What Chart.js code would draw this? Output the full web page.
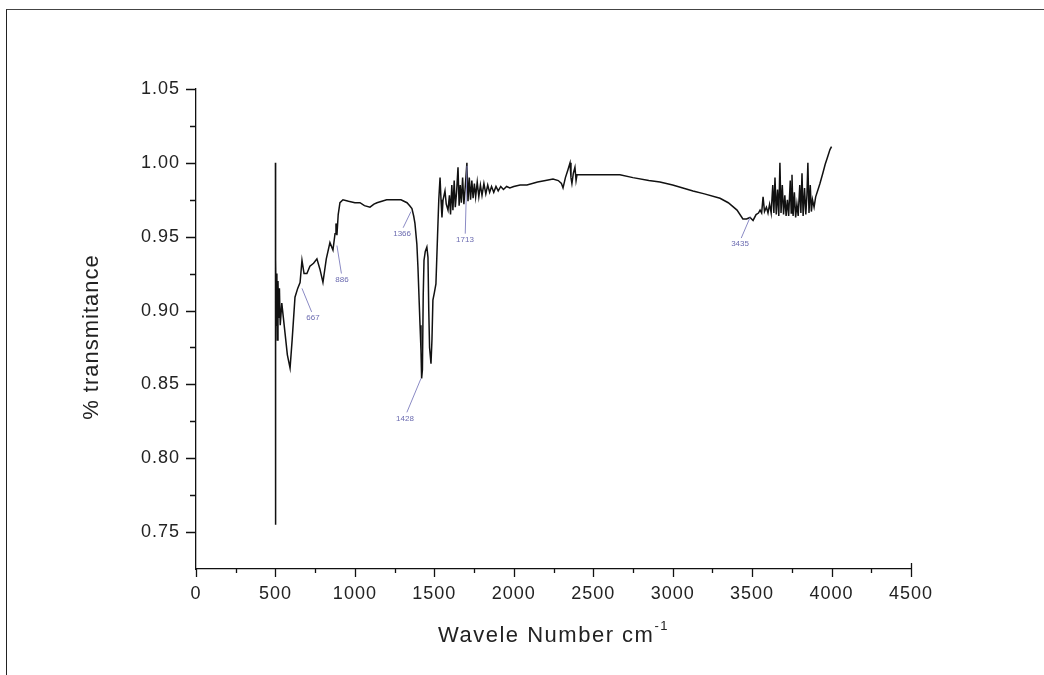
<!DOCTYPE html>
<html>
<head>
<meta charset="utf-8">
<script src="https://cdn.jsdelivr.net/npm/chart.js@4.4.0/dist/chart.umd.min.js"></script>
<style>
html, body { margin: 0; padding: 0; background: #fff; }
#wrap { position: relative; width: 1044px; height: 675px; overflow: hidden; }
#frame { position: absolute; left: 6px; top: 9px; right: -2px; bottom: -2px; border-top: 1px solid #444; border-left: 1px solid #222; }
canvas { position: absolute; left: 0; top: 0; }
</style>
</head>
<body>
<div id="wrap">
  <div id="frame"></div>
  <canvas id="ftirChart" width="1044" height="675"></canvas>
</div>
<script>
'use strict';

// spectrum
var wavenumbers = [
    500, 500, 500, 503, 506, 509, 512, 516, 520, 525, 530, 540, 550, 560, 575, 592,
    605, 623, 640, 655, 667, 680, 698, 717, 740, 761, 780, 799, 820, 843, 862, 875,
    881, 887, 895, 906, 925, 960, 1000, 1032, 1060, 1095, 1120, 1139, 1200, 1240, 1290, 1328,
    1345, 1359, 1370, 1378, 1390, 1397, 1405, 1410, 1416, 1420, 1425, 1430, 1435, 1443, 1453, 1460,
    1465, 1470, 1479, 1485, 1491, 1500, 1510, 1520, 1528, 1536, 1542, 1548, 1555, 1567, 1575, 1586,
    1595, 1602, 1610, 1617, 1625, 1632, 1640, 1649, 1656, 1663, 1670, 1678, 1686, 1694, 1705, 1712,
    1720, 1728, 1736, 1744, 1752, 1760, 1770, 1780, 1790, 1800, 1812, 1824, 1836, 1848, 1860, 1874,
    1888, 1902, 1918, 1935, 1955, 1975, 2000, 2040, 2083, 2150, 2200, 2247, 2280, 2300, 2310, 2325,
    2340, 2354, 2360, 2366, 2375, 2385, 2392, 2398, 2450, 2550, 2668, 2750, 2850, 2920, 3000, 3128,
    3200, 3298, 3350, 3405, 3442, 3465, 3487, 3506, 3525, 3540, 3550, 3560, 3569, 3578, 3590, 3600,
    3610, 3620, 3630, 3637, 3644, 3652, 3660, 3668, 3675, 3682, 3690, 3698, 3706, 3714, 3722, 3730,
    3740, 3746, 3751, 3758, 3766, 3774, 3782, 3790, 3800, 3807, 3814, 3821, 3830, 3838, 3845, 3851,
    3858, 3866, 3873, 3880, 3890, 3900, 3915, 3927, 3945, 3960, 3975, 3990, 4000
];
var transmittance = [
    1.000, 0.755, 0.900, 0.935, 0.890, 0.925, 0.880, 0.920, 0.895, 0.915, 0.890, 0.905, 0.895, 0.885, 0.870, 0.861,
    0.880, 0.909, 0.915, 0.919, 0.934, 0.925, 0.925, 0.930, 0.932, 0.935, 0.928, 0.919, 0.935, 0.946, 0.941, 0.952,
    0.959, 0.951, 0.965, 0.973, 0.975, 0.974, 0.973, 0.973, 0.971, 0.970, 0.972, 0.973, 0.975, 0.975, 0.975, 0.973,
    0.971, 0.969, 0.964, 0.959, 0.945, 0.929, 0.905, 0.890, 0.873, 0.854, 0.860, 0.910, 0.934, 0.940, 0.943, 0.936,
    0.900, 0.875, 0.864, 0.880, 0.907, 0.912, 0.918, 0.950, 0.975, 0.990, 0.975, 0.963, 0.975, 0.981, 0.972, 0.968,
    0.978, 0.965, 0.985, 0.968, 0.988, 0.970, 0.980, 0.997, 0.971, 0.985, 0.973, 0.990, 0.972, 0.983, 1.000, 0.974,
    0.990, 0.975, 0.988, 0.976, 0.986, 0.977, 0.987, 0.977, 0.985, 0.978, 0.986, 0.979, 0.985, 0.980, 0.984, 0.980,
    0.984, 0.981, 0.984, 0.982, 0.984, 0.983, 0.984, 0.985, 0.985, 0.987, 0.988, 0.989, 0.988, 0.986, 0.983, 0.990,
    0.995, 1.000, 0.990, 0.986, 0.993, 0.997, 0.988, 0.992, 0.992, 0.992, 0.992, 0.990, 0.988, 0.987, 0.985, 0.981,
    0.979, 0.976, 0.973, 0.968, 0.962, 0.962, 0.963, 0.961, 0.965, 0.966, 0.968, 0.966, 0.977, 0.967, 0.970, 0.966,
    0.972, 0.966, 0.985, 0.966, 0.990, 0.965, 0.982, 0.964, 1.000, 0.966, 0.985, 0.965, 0.978, 0.964, 0.975, 0.964,
    0.988, 0.966, 0.992, 0.964, 0.980, 0.963, 0.972, 0.964, 0.985, 0.966, 0.993, 0.964, 0.983, 0.965, 0.978, 1.000,
    0.966, 0.985, 0.967, 0.975, 0.970, 0.977, 0.982, 0.986, 0.993, 0.999, 1.004, 1.009, 1.011
];

// peak annotations
var peakLabels = ['667', '886', '1366', '1428', '1713', '3435'];
var peakX = [667, 887, 1353, 1416, 1706, 3487];
var peakY = [0.915, 0.944, 0.967, 0.854, 0.998, 0.963];
var labelX = [736, 919, 1297, 1315, 1693, 3424];
var labelY = [0.895, 0.921, 0.952, 0.827, 0.948, 0.945];

// axes
var xTickValues = [0, 250, 500, 750, 1000, 1250, 1500, 1750, 2000, 2250, 2500, 2750, 3000, 3250, 3500, 3750, 4000, 4250, 4500];
var yTickValues = [0.75, 0.775, 0.80, 0.825, 0.85, 0.875, 0.90, 0.925, 0.95, 0.975, 1.00, 1.025, 1.05];

var points = wavenumbers.map(function (w, i) {
    return { x: w, y: transmittance[i] };
});

function isMajorX (v) { return v % 500 === 0; }
function isMajorY (v) { return Math.round(v * 1000) % 50 === 0; }

var axisDecor = {
    id: 'axisDecor',
    beforeDraw: function (chart) {
        // the picture's lettering is a little wider than plain Arial
        chart.ctx.letterSpacing = '1px';
    },
    afterDraw: function (chart) {
        var ctx = chart.ctx;
        var xs = chart.scales.x;
        var ys = chart.scales.y;
        var area = chart.chartArea;
        var i;

        ctx.save();
        ctx.strokeStyle = '#111';
        ctx.lineWidth = 1.3;
        ctx.beginPath();
        xs.ticks.forEach(function (t) {
            var px = Math.round(xs.getPixelForValue(t.value)) + 0.5;
            var len = isMajorX(t.value) ? 8 : 4;
            ctx.moveTo(px, area.bottom);
            ctx.lineTo(px, area.bottom + len);
        });
        // right end of the x axis turns up
        ctx.moveTo(Math.round(area.right) + 0.5, area.bottom);
        ctx.lineTo(Math.round(area.right) + 0.5, area.bottom - 6);
        ys.ticks.forEach(function (t) {
            var py = Math.round(ys.getPixelForValue(t.value)) + 0.5;
            var len = isMajorY(t.value) ? 10 : 6;
            ctx.moveTo(area.left, py);
            ctx.lineTo(area.left - len, py);
        });
        ctx.moveTo(Math.round(area.left) + 0.5, area.bottom);
        ctx.lineTo(Math.round(area.left) + 0.5, area.bottom + 8);
        ctx.stroke();

        // peak labels
        ctx.letterSpacing = '0px';
        ctx.strokeStyle = '#8a8ac4';
        ctx.lineWidth = 1;
        ctx.fillStyle = '#6b6bb0';
        ctx.font = '8px "Liberation Sans", Arial, sans-serif';
        ctx.textAlign = 'center';
        ctx.textBaseline = 'middle';
        for (i = 0; i < peakLabels.length; i++) {
            var x0 = xs.getPixelForValue(peakX[i]);
            var y0 = ys.getPixelForValue(peakY[i]);
            var x1 = xs.getPixelForValue(labelX[i]);
            var y1 = ys.getPixelForValue(labelY[i]);
            ctx.beginPath();
            ctx.moveTo(x0, y0);
            ctx.lineTo(x1 + (x0 - x1) * 0.12, y1 - 6);
            ctx.stroke();
            ctx.fillText(peakLabels[i], x1, y1);
        }

        // axis titles
        ctx.fillStyle = '#222';
        ctx.textBaseline = 'alphabetic';
        ctx.letterSpacing = '1.5px';
        ctx.font = '22px "Liberation Sans", Arial, sans-serif';
        var main = 'Wavele Number cm';
        var sup = '-1';
        ctx.textAlign = 'left';
        var w1 = ctx.measureText(main).width;
        ctx.font = '13px "Liberation Sans", Arial, sans-serif';
        var w2 = ctx.measureText(sup).width;
        var cx = (area.left + area.right) / 2;
        var startX = cx - (w1 + w2) / 2;
        ctx.font = '22px "Liberation Sans", Arial, sans-serif';
        ctx.fillText(main, startX, 642);
        ctx.font = '13px "Liberation Sans", Arial, sans-serif';
        ctx.fillText(sup, startX + w1, 630);

        ctx.letterSpacing = '1px';
        ctx.translate(98, 337);
        ctx.rotate(-Math.PI / 2);
        ctx.textAlign = 'center';
        ctx.font = '22px "Liberation Sans", Arial, sans-serif';
        ctx.fillText('% transmitance', 0, 0);
        ctx.restore();
    }
};

var ctx = document.getElementById('ftirChart').getContext('2d');

new Chart(ctx, {
    type: 'line',
    data: {
        datasets: [{
            data: points,
            borderColor: '#111',
            borderWidth: 1.5,
            pointRadius: 0,
            tension: 0,
            fill: false
        }]
    },
    options: {
        responsive: false,
        animation: false,
        events: [],
        layout: { padding: { left: 0, top: 89, right: 133, bottom: 0 } },
        plugins: {
            legend: { display: false },
            tooltip: { enabled: false }
        },
        scales: {
            x: {
                type: 'linear',
                min: 0,
                max: 4500,
                afterBuildTicks: function (scale) {
                    scale.ticks = xTickValues.map(function (v) { return { value: v }; });
                },
                afterFit: function (scale) { scale.height = 106; },
                grid: {
                    drawOnChartArea: false,
                    drawTicks: true,
                    tickLength: 8,
                    tickColor: 'rgba(0,0,0,0)'
                },
                border: { display: true, color: '#111', width: 1.3 },
                ticks: {
                    autoSkip: false,
                    maxRotation: 0,
                    padding: 6,
                    color: '#222',
                    font: { family: '"Liberation Sans", Arial, sans-serif', size: 18 },
                    callback: function (v) { return isMajorX(v) ? String(v) : ''; }
                }
            },
            y: {
                type: 'linear',
                min: 0.725,
                max: 1.05,
                afterBuildTicks: function (scale) {
                    scale.ticks = yTickValues.map(function (v) { return { value: v }; });
                },
                afterFit: function (scale) { scale.width = 196; },
                grid: {
                    drawOnChartArea: false,
                    drawTicks: true,
                    tickLength: 10,
                    tickColor: 'rgba(0,0,0,0)'
                },
                border: { display: true, color: '#111', width: 1.3 },
                ticks: {
                    autoSkip: false,
                    padding: 6,
                    color: '#222',
                    font: { family: '"Liberation Sans", Arial, sans-serif', size: 18 },
                    callback: function (v) { return isMajorY(v) ? v.toFixed(2) : ''; }
                }
            }
        }
    },
    plugins: [axisDecor]
});
</script>
</body>
</html>
